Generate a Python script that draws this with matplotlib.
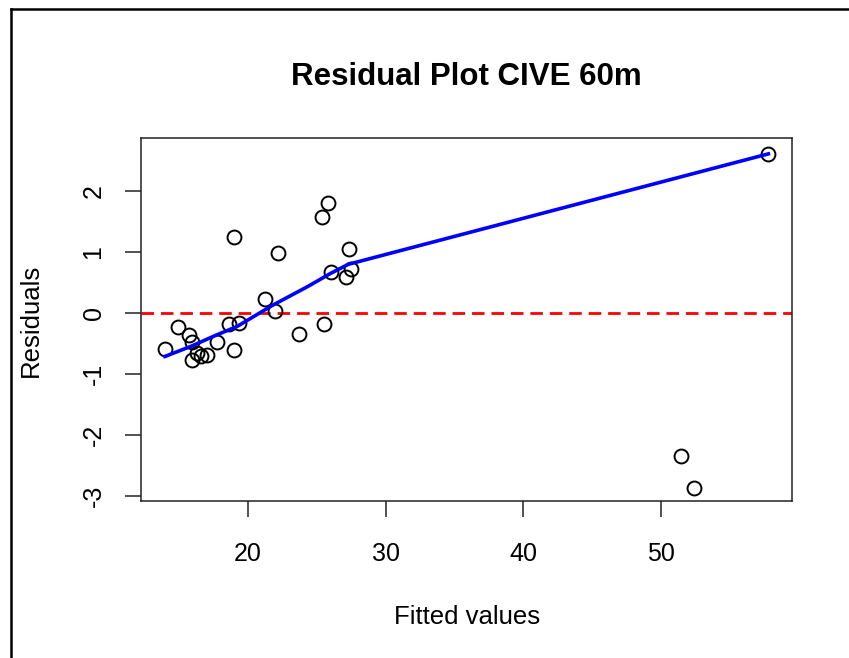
import matplotlib
matplotlib.use("Agg")
import matplotlib.pyplot as plt
from matplotlib.lines import Line2D

plt.rcParams['font.family'] = ['Liberation Sans', 'DejaVu Sans']

# Data
fitted = [13.96, 14.88, 15.71, 15.90, 15.90, 16.31, 16.56, 17.00, 17.75,
          18.62, 18.98, 18.98, 19.32, 21.26, 21.96, 22.18, 23.73, 25.36,
          25.82, 25.55, 26.04, 27.10, 27.35, 27.51, 57.84, 51.47, 52.44]
residuals = [-0.59, -0.23, -0.36, -0.47, -0.77, -0.66, -0.71, -0.68, -0.48,
             -0.18, -0.60, 1.25, -0.16, 0.23, 0.03, 0.99, -0.35, 1.58,
             1.80, -0.18, 0.67, 0.59, 1.05, 0.72, 2.61, -2.35, -2.86]

smooth_x = [13.96, 15.8, 17.7, 19.2, 21.8, 24.3, 26.0, 27.3, 57.84]
smooth_y = [-0.71, -0.55, -0.36, -0.22, 0.13, 0.43, 0.65, 0.80, 2.61]

x_ticks = [20, 30, 40, 50]
y_ticks = [-3, -2, -1, 0, 1, 2]

W, H = 849, 658
fig = plt.figure(figsize=(W / 100, H / 100), dpi=100)
ax = fig.add_axes([141 / W, 1 - 501 / H, (792 - 141) / W, (501 - 138) / H])

ax.plot(fitted, residuals, linestyle='none', marker='o', markersize=10,
        markerfacecolor='none', markeredgecolor='black', markeredgewidth=1.4,
        zorder=3)
ax.plot(smooth_x, smooth_y, color='#0000ff', linewidth=2.6, zorder=4)
ax.axhline(0, color='#ff0000', linestyle=(0, (4.5, 2.5)), linewidth=2.0,
           zorder=2)

ax.set_xlim(12.22, 59.56)
ax.set_ylim(-3.08, 2.87)
ax.set_xticks(x_ticks)
ax.set_yticks(y_ticks)
ax.set_yticklabels([str(v) for v in y_ticks], rotation=90, va='center')
ax.tick_params(axis='both', direction='out', length=11.5, width=1.1,
               labelsize=18, color='#222222')
ax.tick_params(axis='x', pad=18)
ax.tick_params(axis='y', pad=14)
for s in ax.spines.values():
    s.set_linewidth(1.1)
    s.set_color('#222222')

fig.text(466 / W, 1 - 85 / H, 'Residual Plot CIVE 60m', ha='center',
         va='baseline', fontsize=22.5, fontweight='bold')
fig.text(467 / W, 1 - 624 / H, 'Fitted values', ha='center', va='baseline',
         fontsize=18.5)
fig.text(31 / W, 1 - 320 / H, 'Residuals', ha='center', va='center',
         fontsize=18.5, rotation=90)

# outer frame (left and top edges)
fig.add_artist(Line2D([10.5 / W, 10.5 / W], [0, 1 - 8.5 / H],
                      transform=fig.transFigure, color='black', linewidth=1.8))
fig.add_artist(Line2D([10.5 / W, 1], [1 - 8.5 / H, 1 - 8.5 / H],
                      transform=fig.transFigure, color='black', linewidth=1.8))

fig.savefig('out.png', dpi=100)
